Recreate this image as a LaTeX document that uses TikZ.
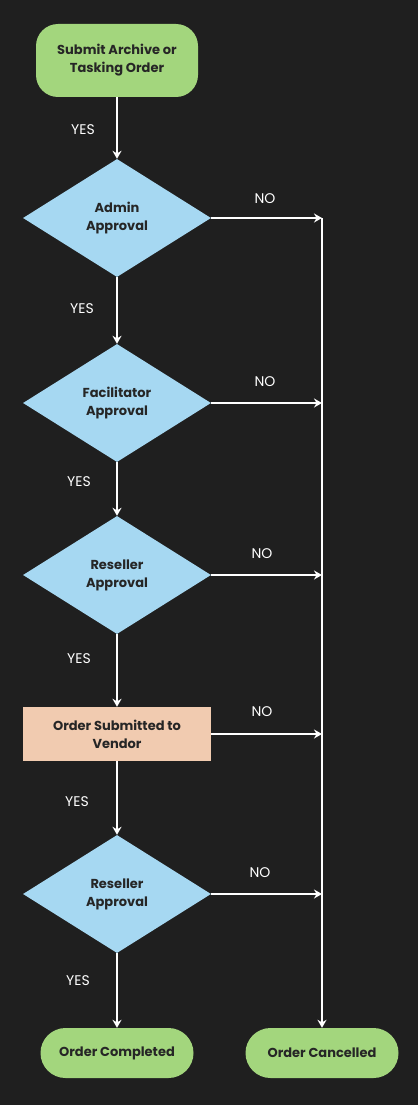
\documentclass[tikz,border=0pt]{standalone}
\usepackage{fontspec}
\setmainfont{Poppins}
\usetikzlibrary{arrows.meta, shapes.geometric, positioning}
\definecolor{BgDark}{HTML}{1F1F1F}
\definecolor{TermGreen}{HTML}{A3D67D}
\definecolor{DecBlue}{HTML}{A6D8F2}
\definecolor{ProcPeach}{HTML}{F1CBB0}
\definecolor{InkDark}{HTML}{262626}
\tikzset{
  >={Stealth[length=8pt,width=9pt]},  % white arrow tips
  % shapes of the flow chart
  box/.style={draw=none,text=InkDark,font=\bfseries\fontsize{13}{18}\selectfont,align=center,inner sep=0pt},
  term start/.style={box,rounded corners=22pt,fill=TermGreen,minimum width=162pt,minimum height=73pt},
  term end/.style={box,rounded corners=25pt,fill=TermGreen,minimum width=153pt,minimum height=50pt},
  decision/.style={box,diamond,fill=DecBlue,minimum width=188pt,minimum height=118pt},
  process/.style={box,fill=ProcPeach,minimum width=188pt,minimum height=54pt},
  % connectors and their labels
  flow/.style={->,white,line width=1.5pt},
  answer/.style={white,font=\fontsize{14}{16}\selectfont}
}
\begin{document}
\begin{tikzpicture}[x=1pt,y=1pt]
  \fill[BgDark] (0,0) rectangle (418,-1105);
  \useasboundingbox (0,0) rectangle (418,-1105);
  % main column
  \node[term start] (submit) at (117,-60.5) {Submit Archive or\\Tasking Order};
  \node[decision] (admin) at (117,-218) {Admin\\Approval};
  \node[decision] (facil) at (117,-403) {Facilitator\\Approval};
  \node[decision] (resell) at (117,-575) {Reseller\\Approval};
  \node[process] (vendor) at (117,-734) {Order Submitted to\\Vendor};
  \node[decision] (resell2) at (117,-894) {Reseller\\Approval};
  \node[term end] (done) at (117,-1053) {Order Completed};
  \node[term end] (cancel) at (322,-1053) {Order Cancelled};
  % points on the cancel line
  \coordinate (n1) at (322,-218);
  \coordinate (n2) at (322,-403);
  \coordinate (n3) at (322,-575);
  \coordinate (n4) at (322,-734);
  \coordinate (n5) at (322,-894);
  % yes branch
  \draw[flow] (submit) -- (admin);
  \draw[flow] (admin) -- (facil);
  \draw[flow] (facil) -- (resell);
  \draw[flow] (resell) -- (vendor);
  \draw[flow] (vendor) -- (resell2);
  \draw[flow] (resell2) -- (done);
  \node[answer] (y1) at (83,-130) {YES};
  \node[answer] (y2) at (82,-309) {YES};
  \node[answer] (y3) at (79,-482) {YES};
  \node[answer] (y4) at (79,-659) {YES};
  \node[answer] (y5) at (77,-802) {YES};
  \node[answer] (y6) at (78,-981) {YES};
  % no branch
  \draw[flow] (admin) -- (n1);
  \draw[flow] (facil) -- (n2);
  \draw[flow] (resell) -- (n3);
  \draw[flow] (vendor) -- (n4);
  \draw[flow] (resell2) -- (n5);
  \draw[flow] (n1) -- (cancel);
  \node[answer] (no1) at (265,-199) {NO};
  \node[answer] (no2) at (265,-382) {NO};
  \node[answer] (no3) at (262,-554) {NO};
  \node[answer] (no4) at (262,-712) {NO};
  \node[answer] (no5) at (260,-873) {NO};
\end{tikzpicture}
\end{document}
